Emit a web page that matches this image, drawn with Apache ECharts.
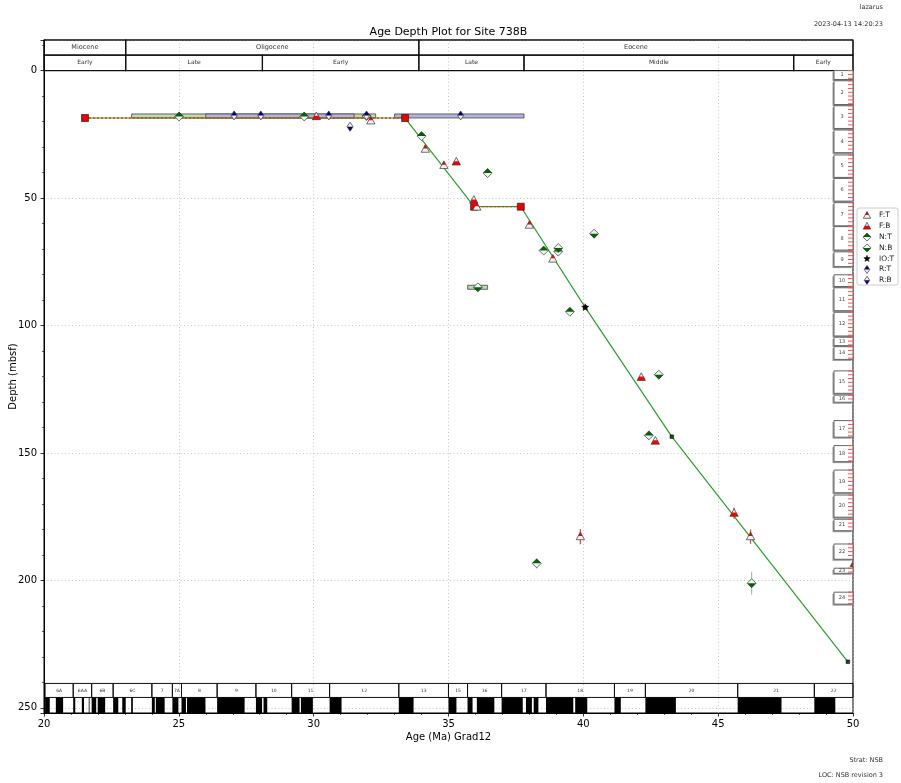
<!DOCTYPE html>
<html>
<head>
<meta charset="utf-8">
<title>Age Depth Plot for Site 738B</title>
<script src="https://cdn.jsdelivr.net/npm/echarts@6.0.0/dist/echarts.min.js"></script>
<style>
  html, body { margin: 0; padding: 0; background: #ffffff; }
  #chart { width: 901px; height: 783px; }
</style>
</head>
<body>
<div id="chart"></div>
<script>
// ---------------- Data ----------------
// Epochs and sub-epochs (Ma, GTS2012)
const epochNames = ['Miocene', 'Oligocene', 'Eocene'];
const epochYoung = [5.333, 23.03, 33.9];
const epochOld   = [23.03, 33.9, 56.0];
const stageNames = ['Early', 'Late', 'Early', 'Late', 'Middle', 'Early'];
const stageYoung = [15.97, 23.03, 28.1, 33.9, 37.8, 47.8];
const stageOld   = [23.03, 28.1, 33.9, 37.8, 47.8, 56.0];

// Magnetic polarity chrons
const chronNames = ['6A', '6AA', '6B', '6C', '7', '7A', '8', '9', '10', '11', '12', '13', '15', '16', '17', '18', '19', '20', '21', '22'];
const chronYoung = [20.040, 21.083, 21.767, 22.564, 24.000, 24.761, 25.099, 26.420, 27.859, 29.183, 30.591, 33.157, 34.999, 35.706, 36.969, 38.615, 41.154, 42.301, 45.724, 48.566];
const chronOld   = [21.083, 21.767, 22.564, 24.000, 24.761, 25.099, 26.420, 27.859, 29.183, 30.591, 33.157, 34.999, 35.706, 36.969, 38.615, 41.154, 42.301, 45.724, 48.566, 50.628];
// Normal-polarity intervals
const normalYoung = [20.040, 20.439, 21.083, 21.403, 21.659, 21.767, 21.992, 22.564, 22.902, 23.233, 24.000, 24.147, 24.761, 25.099, 25.304, 26.420, 27.859, 28.141, 29.183, 29.527, 30.591, 33.157, 34.999, 35.706, 36.051, 36.969, 37.872, 38.159, 38.615, 39.698, 41.154, 42.301, 45.724, 48.566];
const normalOld   = [20.213, 20.709, 21.159, 21.483, 21.688, 21.936, 22.268, 22.754, 23.030, 23.295, 24.109, 24.474, 24.984, 25.264, 25.987, 27.439, 28.087, 28.278, 29.477, 29.970, 31.034, 33.705, 35.294, 35.892, 36.700, 37.753, 38.093, 38.333, 39.627, 40.145, 41.390, 43.432, 47.349, 49.344];

// Cores (mbsf)
const coreNames  = ['1', '2', '3', '4', '5', '6', '7', '8', '9', '10', '11', '12', '13', '14', '15', '16', '17', '18', '19', '20', '21', '22', '23', '24'];
const coreTop    = [0.0, 4.0, 13.8, 23.3, 33.1, 42.3, 51.8, 61.2, 71.1, 80.1, 85.2, 94.8, 104.6, 108.3, 117.8, 127.3, 137.3, 147.1, 156.7, 166.5, 176.0, 185.7, 195.2, 204.6];
const coreBottom = [3.5, 13.3, 22.7, 32.2, 41.9, 51.2, 60.9, 70.4, 76.9, 84.7, 94.2, 104.1, 107.9, 113.3, 126.6, 130.1, 143.8, 153.4, 165.6, 175.2, 180.5, 191.7, 197.2, 209.3];
const sectionLength = 1.5;

// Line of correlation
const locAge   = [21.52, 33.39, 35.95, 37.68, 40.07, 43.28, 49.81];
const locDepth = [18.6, 18.6, 53.4, 53.4, 92.9, 143.6, 231.9];

// Events: age (Ma), depth (mbsf), depth uncertainty (m)
const ftAge   = [32.12, 34.14, 34.83, 36.05, 38.00, 38.87, 39.89, 46.20];
const ftDepth = [19.7, 30.8, 37.2, 53.5, 60.6, 73.9, 182.8, 182.8];
const ftErr   = [0, 0, 0, 0, 0, 0, 3.0, 2.8];
const fbAge   = [30.10, 35.29, 35.94, 42.15, 42.67, 45.59, 50.05];
const fbDepth = [18.0, 35.8, 50.8, 120.3, 145.3, 173.6, 193.3];
const fbErr   = [0, 0, 0, 0, 0.8, 2.2, 0];
const ntAge   = [25.01, 29.65, 31.96, 34.00, 36.45, 38.53, 39.07, 39.50, 42.43, 38.27];
const ntDepth = [18.0, 18.0, 17.8, 25.7, 40.2, 70.6, 71.0, 94.6, 143.1, 193.3];
const ntErr   = [0, 0, 0, 0, 0, 0, 0, 0, 0, 2.0];
const nbAge   = [40.40, 39.07, 36.09, 42.80, 46.24];
const nbDepth = [64.0, 69.6, 85.0, 119.3, 201.1];
const nbErr   = [0, 0, 0, 0, 4.5];
const ioAge   = [40.07];
const ioDepth = [92.9];
const rtAge   = [27.05, 28.04, 30.56, 31.96, 35.45];
const rtDepth = [17.6, 17.6, 17.6, 17.6, 17.6];
const rbAge   = [31.35];
const rbDepth = [22.0];

// Age-range bars
const rangeYoung = [23.25, 26.00, 33.00, 35.71];
const rangeOld   = [32.30, 31.50, 37.80, 36.45];
const rangeDepth = [17.8, 17.8, 17.8, 85.0];
const rangeGroup = ['N', 'R', 'R', 'N'];

const xTickStep = 5;

// ---------------- Layout constants ----------------
const AGE_MIN = 20, AGE_MAX = 50;
const DEPTH_TOP = -12, DEPTH_BOTTOM = 252;
const HEADER_MID = -6.1, HEADER_BASE = 0;
const CHRON_TOP = 240.4, CHRON_MID = 245.9;
const FONT = '"DejaVu Sans", sans-serif';

function clampAge(a) { return Math.min(AGE_MAX, Math.max(AGE_MIN, a)); }

// Row of labelled boxes (epochs, stages, chrons)
function cellSeries(names, young, old, dTop, dBottom, fontSize, lineWidth) {
  return {
    type: 'custom', coordinateSystem: 'cartesian2d', silent: true, z: 3,
    data: young.map((y, i) => [y, old[i]]),
    renderItem(params, api) {
      const i = params.dataIndex;
      const a0 = clampAge(api.value(0)), a1 = clampAge(api.value(1));
      const p0 = api.coord([a0, dTop]), p1 = api.coord([a1, dBottom]);
      return {
        type: 'group',
        children: [
          { type: 'rect', shape: { x: p0[0], y: p0[1], width: p1[0] - p0[0], height: p1[1] - p0[1] },
            style: { fill: 'none', stroke: '#111', lineWidth: lineWidth } },
          { type: 'text', style: { x: (p0[0] + p1[0]) / 2, y: (p0[1] + p1[1]) / 2, text: names[i],
            fontSize: fontSize, fontFamily: FONT, fill: '#333', align: 'center', verticalAlign: 'middle' } }
        ]
      };
    }
  };
}

// Marker glyphs
const MARKERS = {
  'F:T':  { shape: 'tri',  color: '#ff0000', half: 'top' },
  'F:B':  { shape: 'tri',  color: '#ff0000', half: 'bottom' },
  'N:T':  { shape: 'dia',  color: '#006400', half: 'top' },
  'N:B':  { shape: 'dia',  color: '#006400', half: 'bottom' },
  'IO:T': { shape: 'star', color: '#000000' },
  'R:T':  { shape: 'thin', color: '#000080', half: 'top' },
  'R:B':  { shape: 'thin', color: '#000080', half: 'bottom' }
};
const ERR_COLOR = { F: 'rgba(255,0,0,0.75)', N: 'rgba(90,170,90,0.6)' };

function markerShapes(key, cx, cy, s) {
  const m = MARKERS[key];
  const P = pts => pts.map(([x, y]) => [cx + x * s, cy + y * s]);
  if (m.shape === 'star') {
    const pts = [];
    for (let k = 0; k < 10; k++) {
      const r = k % 2 === 0 ? 4.2 : 1.8;
      const a = -Math.PI / 2 + k * Math.PI / 5;
      pts.push([r * Math.cos(a), r * Math.sin(a)]);
    }
    return [{ type: 'polygon', shape: { points: P(pts) }, style: { fill: m.color, stroke: m.color, lineWidth: 0.5 } }];
  }
  let full, top, bottom;
  if (m.shape === 'tri') {
    full = [[0, -5], [4.6, 3.5], [-4.6, 3.5]];
    top = [[0, -5], [2.3, -0.75], [-2.3, -0.75]];
    bottom = [[-2.3, -0.75], [2.3, -0.75], [4.6, 3.5], [-4.6, 3.5]];
  } else {
    const w = m.shape === 'dia' ? 5 : 3.4;
    full = [[0, -5], [w, 0], [0, 5], [-w, 0]];
    top = [[0, -5], [w, 0], [-w, 0]];
    bottom = [[-w, 0], [w, 0], [0, 5]];
  }
  return [
    { type: 'polygon', shape: { points: P(full) }, style: { fill: '#f2f2f2' } },
    { type: 'polygon', shape: { points: P(m.half === 'top' ? top : bottom) }, style: { fill: m.color } },
    { type: 'polygon', shape: { points: P(full) }, style: { fill: 'none', stroke: '#333', lineWidth: 0.7 } }
  ];
}

function eventSeries(key, ages, depths, errs) {
  const errColor = ERR_COLOR[key.charAt(0)] || '#000';
  return {
    type: 'custom', name: key, coordinateSystem: 'cartesian2d', clip: true, silent: true, z: 8,
    data: ages.map((a, i) => [a, depths[i], errs ? errs[i] : 0]),
    renderItem(params, api) {
      const age = api.value(0), depth = api.value(1), e = api.value(2);
      const p = api.coord([age, depth]);
      const children = [];
      if (e > 0) {
        const p0 = api.coord([age, depth - e]), p1 = api.coord([age, depth + e]);
        children.push({ type: 'line', shape: { x1: p0[0], y1: p0[1], x2: p1[0], y2: p1[1] },
          style: { stroke: errColor, lineWidth: 1.2 } });
      }
      return { type: 'group', children: children.concat(markerShapes(key, p[0], p[1], 0.9)) };
    }
  };
}

const series = [
  // Epoch header
  cellSeries(epochNames, epochYoung, epochOld, DEPTH_TOP, HEADER_MID, 6.5, 1.2),
  cellSeries(stageNames, stageYoung, stageOld, HEADER_MID, HEADER_BASE, 6, 1.2),
  // Chron labels
  cellSeries(chronNames, chronYoung, chronOld, CHRON_TOP, CHRON_MID, 4.5, 1),
  // Polarity column
  {
    type: 'custom', coordinateSystem: 'cartesian2d', silent: true, z: 3,
    data: normalYoung.map((y, i) => [y, normalOld[i]]),
    renderItem(params, api) {
      const p0 = api.coord([clampAge(api.value(0)), CHRON_MID]);
      const p1 = api.coord([clampAge(api.value(1)), DEPTH_BOTTOM]);
      return { type: 'rect', shape: { x: p0[0], y: p0[1], width: p1[0] - p0[0], height: p1[1] - p0[1] },
        style: { fill: '#000' } };
    }
  },
  // Core column
  {
    type: 'custom', coordinateSystem: 'cartesian2d', silent: true, z: 4,
    data: coreTop.map((t, i) => [t, coreBottom[i]]),
    renderItem(params, api) {
      const i = params.dataIndex;
      const top = api.value(0), bot = api.value(1);
      const pTop = api.coord([AGE_MAX, top]), pBot = api.coord([AGE_MAX, bot]);
      const right = pTop[0], w = 19, left = right - w;
      const children = [
        { type: 'rect', shape: { x: left - 1.5, y: pTop[1] + 1.5, width: w, height: pBot[1] - pTop[1] },
          style: { fill: '#9a9a9a' } },
        { type: 'rect', shape: { x: left, y: pTop[1], width: w, height: pBot[1] - pTop[1] },
          style: { fill: '#fff', stroke: '#666', lineWidth: 1 } },
        { type: 'text', style: { x: left + 8, y: (pTop[1] + pBot[1]) / 2, text: coreNames[i], fontSize: 5,
          fontFamily: FONT, fill: '#444', align: 'center', verticalAlign: 'middle' } }
      ];
      for (let d = top; d < bot; d += sectionLength) {
        const y = api.coord([AGE_MAX, d])[1];
        children.push({ type: 'line', shape: { x1: right - 5, y1: y, x2: right, y2: y },
          style: { stroke: '#ff5050', lineWidth: 1 } });
      }
      return { type: 'group', children };
    }
  },
  // Age-range bars
  {
    type: 'custom', coordinateSystem: 'cartesian2d', silent: true, z: 5,
    data: rangeYoung.map((y, i) => [y, rangeOld[i], rangeDepth[i]]),
    renderItem(params, api) {
      const g = rangeGroup[params.dataIndex];
      const p0 = api.coord([api.value(0), api.value(2)]);
      const p1 = api.coord([api.value(1), api.value(2)]);
      return { type: 'rect', shape: { x: p0[0], y: p0[1] - 2, width: p1[0] - p0[0], height: 4 },
        style: { fill: g === 'N' ? '#bcdcb4' : '#b4b4e0', stroke: '#555', lineWidth: 0.9 } };
    }
  },
  // Line of correlation
  {
    type: 'line', name: 'LOC', silent: true, z: 6, symbol: 'none',
    data: locAge.map((a, i) => [a, locDepth[i]]),
    lineStyle: { color: '#2ca02c', width: 1.2 }
  },
  // Hiatus segments of the LOC
  {
    type: 'custom', coordinateSystem: 'cartesian2d', silent: true, z: 7,
    data: locAge.slice(1).map((a, i) => [locAge[i], locDepth[i], a, locDepth[i + 1]])
      .filter(s => s[1] === s[3]),
    renderItem(params, api) {
      const p0 = api.coord([api.value(0), api.value(1)]);
      const p1 = api.coord([api.value(2), api.value(3)]);
      return { type: 'line', shape: { x1: p0[0], y1: p0[1], x2: p1[0], y2: p1[1] },
        style: { stroke: '#ff3300', lineWidth: 1.3, lineDash: [2, 2] } };
    }
  },
  // LOC control points
  {
    type: 'custom', coordinateSystem: 'cartesian2d', silent: true, z: 8,
    data: locAge.map((a, i) => {
      const hiatus = (i > 0 && locDepth[i - 1] === locDepth[i]) ||
                     (i < locAge.length - 1 && locDepth[i + 1] === locDepth[i]);
      return [a, locDepth[i], hiatus ? 1 : 0];
    }),
    renderItem(params, api) {
      const p = api.coord([api.value(0), api.value(1)]);
      const big = api.value(2) === 1;
      const s = big ? 7 : 3.6;
      return { type: 'rect', shape: { x: p[0] - s / 2, y: p[1] - s / 2, width: s, height: s },
        style: big ? { fill: '#ee0000', stroke: '#222', lineWidth: 0.7 } : { fill: '#1d4a1d', stroke: '#000', lineWidth: 0.5 } };
    }
  },
  eventSeries('F:T', ftAge, ftDepth, ftErr),
  eventSeries('F:B', fbAge, fbDepth, fbErr),
  eventSeries('N:T', ntAge, ntDepth, ntErr),
  eventSeries('N:B', nbAge, nbDepth, nbErr),
  eventSeries('IO:T', ioAge, ioDepth, null),
  eventSeries('R:T', rtAge, rtDepth, null),
  eventSeries('R:B', rbAge, rbDepth, null)
];

// Legend drawn as a small framed box
const legendKeys = ['F:T', 'F:B', 'N:T', 'N:B', 'IO:T', 'R:T', 'R:B'];
const legendGraphic = {
  type: 'group', z: 100,
  children: [{ type: 'rect', shape: { x: 857, y: 208, width: 41, height: 77, r: 2 },
               style: { fill: '#fff', stroke: '#cccccc', lineWidth: 1 } }]
    .concat(...legendKeys.map((k, i) => {
      const y = 215.5 + i * 10.8;
      return markerShapes(k, 867, y, 0.8).concat([{
        type: 'text', style: { x: 879, y: y, text: k, fontSize: 7.5, fontFamily: FONT, fill: '#222',
          align: 'left', verticalAlign: 'middle' }
      }]);
    }))
};

const smallText = (x, y, text, size) => ({
  type: 'text', z: 100,
  style: { x, y, text, fontSize: size, fontFamily: FONT, fill: '#333', align: 'right', verticalAlign: 'middle' }
});

const option = {
  animation: false,
  backgroundColor: '#ffffff',
  textStyle: { fontFamily: FONT },
  grid: { left: 44, right: 48, top: 40, bottom: 70, show: true, borderColor: '#000', borderWidth: 1,
          backgroundColor: 'transparent', containLabel: false, outerBoundsMode: 'none' },
  xAxis: {
    type: 'value', min: AGE_MIN, max: AGE_MAX, interval: xTickStep, position: 'bottom',
    name: 'Age (Ma) Grad12', nameLocation: 'middle', nameGap: 19, nameMoveOverlap: false,
    nameTextStyle: { fontSize: 10, color: '#000', fontFamily: FONT },
    axisLine: { show: true, onZero: false, lineStyle: { color: '#000', width: 1 } },
    axisTick: { show: true, length: 3.5, inside: false, lineStyle: { color: '#000', width: 0.8 } },
    minorTick: { show: true, splitNumber: 5, length: 2, lineStyle: { color: '#000', width: 0.6 } },
    axisLabel: { fontSize: 10, color: '#000', margin: 6, fontFamily: FONT },
    splitLine: { show: true, lineStyle: { color: '#b8b8b8', width: 0.8, type: [1, 2.5] } }
  },
  yAxis: {
    type: 'value', inverse: true, min: DEPTH_TOP, max: DEPTH_BOTTOM, splitNumber: 5, position: 'left',
    name: 'Depth (mbsf)', nameLocation: 'middle', nameGap: 26, nameRotate: 90, nameMoveOverlap: false,
    nameTextStyle: { fontSize: 10, color: '#000', fontFamily: FONT },
    axisLine: { show: true, onZero: false, lineStyle: { color: '#000', width: 1 } },
    axisTick: { show: true, length: 3.5, inside: false, lineStyle: { color: '#000', width: 0.8 } },
    minorTick: { show: true, splitNumber: 5, length: 2, lineStyle: { color: '#000', width: 0.6 } },
    axisLabel: { fontSize: 10, color: '#000', margin: 7, fontFamily: FONT,
                 formatter: v => (Math.abs(v % 50) < 1e-9 && v >= 0 ? String(v) : '') },
    splitLine: { show: true, lineStyle: { color: '#b8b8b8', width: 0.8, type: [1, 2.5] } }
  },
  graphic: [
    { type: 'text', z: 100, style: { x: 448.5, y: 32, text: 'Age Depth Plot for Site 738B', fontSize: 11,
      fontFamily: FONT, fill: '#000', align: 'center', verticalAlign: 'middle' } },
    smallText(883, 7, 'lazarus', 6.5),
    smallText(883, 24, '2023-04-13 14:20:23', 6.5),
    smallText(883, 760, 'Strat: NSB', 6.5),
    smallText(883, 775, 'LOC: NSB revision 3', 6.5),
    legendGraphic
  ],
  series: series
};

const chart = echarts.init(document.getElementById('chart'), null, { renderer: 'canvas' });
chart.setOption(option);
</script>
</body>
</html>
